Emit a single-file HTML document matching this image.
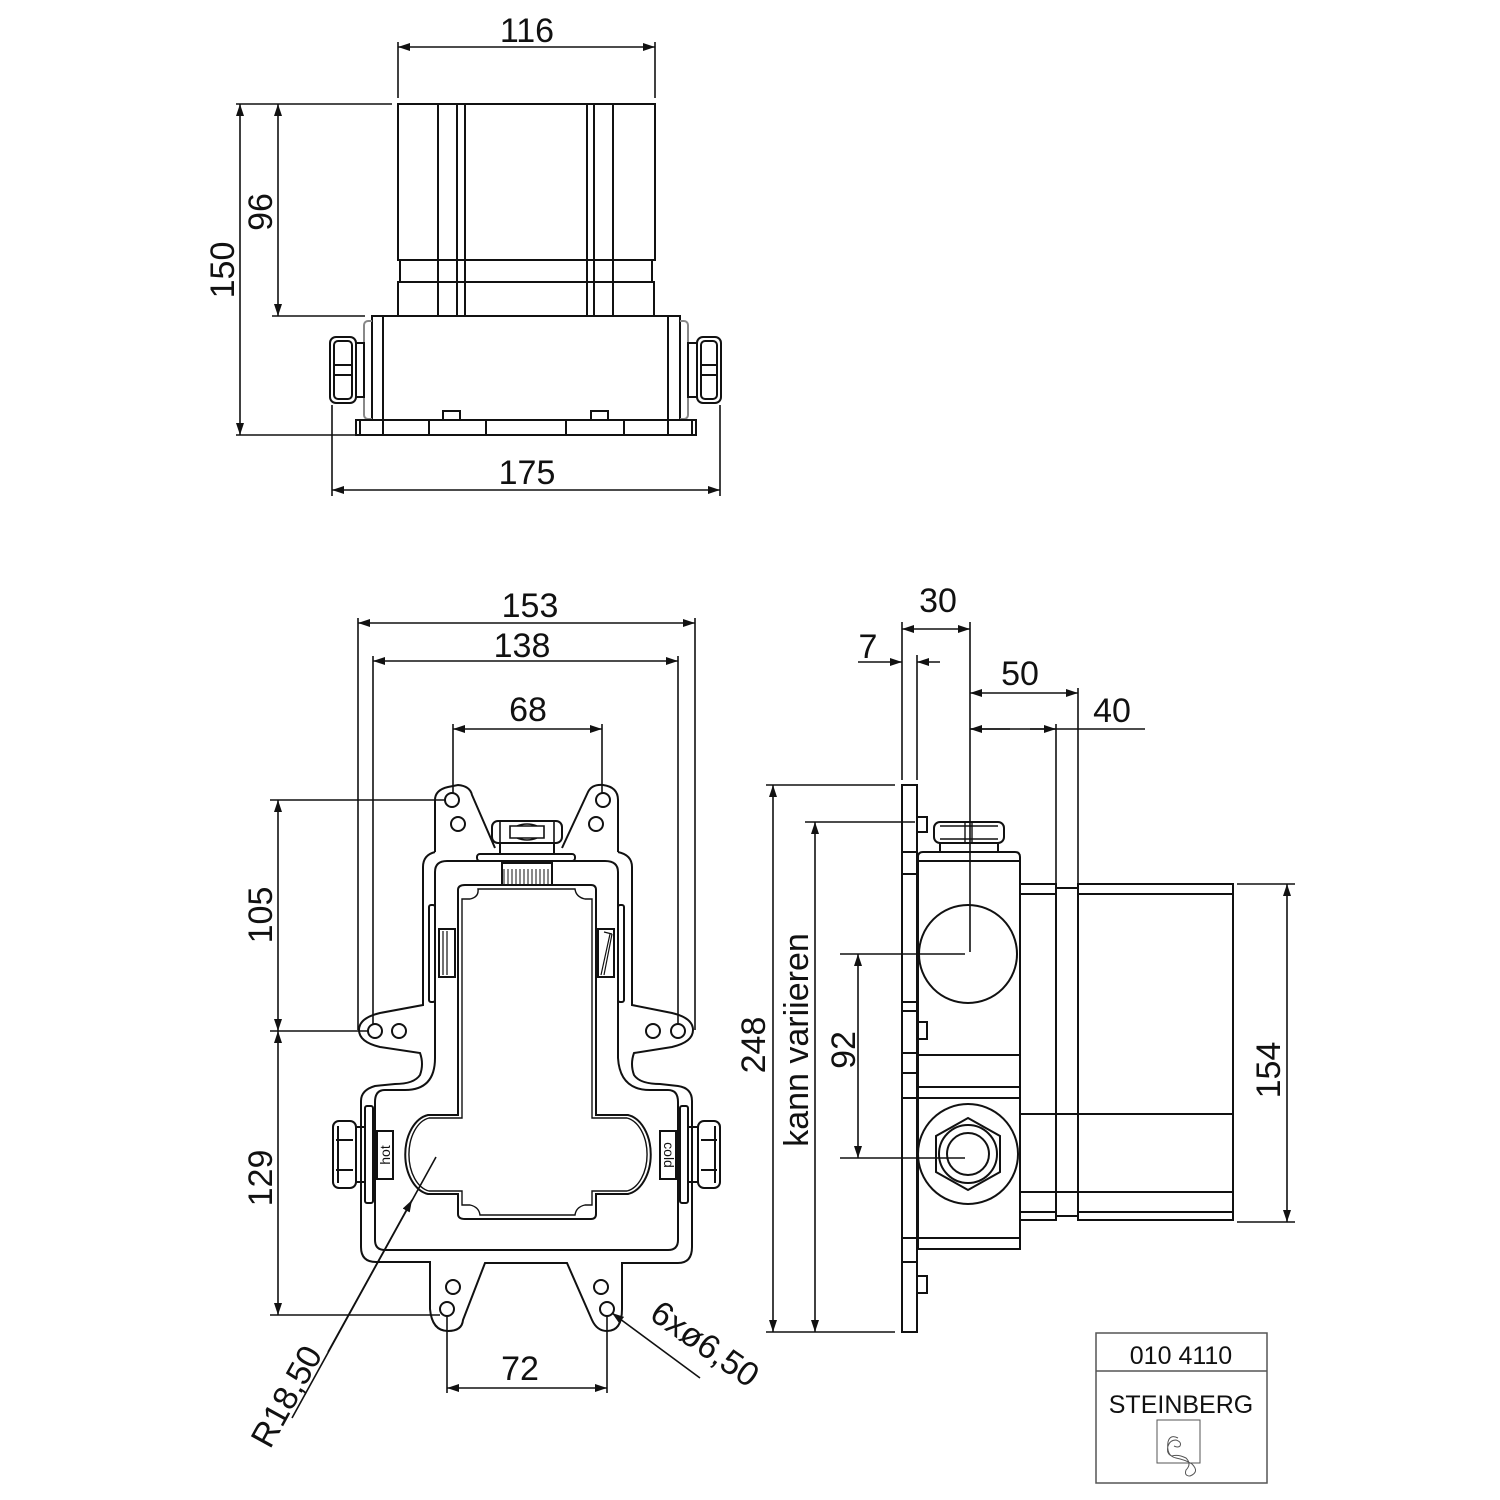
<!DOCTYPE html>
<html><head><meta charset="utf-8"><style>
html,body{margin:0;padding:0;background:#fff}
svg{display:block}
text{font-family:"Liberation Sans",sans-serif;fill:#111}
</style></head><body>
<svg width="1500" height="1500" viewBox="0 0 1500 1500" xmlns="http://www.w3.org/2000/svg">
<defs>
<marker id="a" viewBox="0 0 12 8" refX="12" refY="4" markerWidth="12" markerHeight="8" markerUnits="userSpaceOnUse" orient="auto-start-reverse"><path d="M0,0 L12,4 L0,8 z" fill="#111"/></marker>
</defs>
<g fill="none" stroke="#111" stroke-width="2">
<rect x="398" y="104" width="257" height="156"/>
<line x1="438" y1="104" x2="438" y2="316"/><line x1="457" y1="104" x2="457" y2="316"/><line x1="465" y1="104" x2="465" y2="316"/>
<line x1="587" y1="104" x2="587" y2="316"/><line x1="594" y1="104" x2="594" y2="316"/><line x1="613" y1="104" x2="613" y2="316"/>
<rect x="400" y="260" width="252" height="22"/>
<rect x="398" y="282" width="256" height="34"/>
<rect x="372" y="316" width="308" height="104"/>
<line x1="383" y1="316" x2="383" y2="420"/><line x1="668" y1="316" x2="668" y2="420"/>
<path d="M372,321 h-4 a4,4 0 0 0 -4,4 v90 a4,4 0 0 0 4,4 h4" stroke="#888"/>
<path d="M680,321 h4 a4,4 0 0 1 4,4 v90 a4,4 0 0 1 -4,4 h-4" stroke="#888"/>
<rect x="356" y="420" width="340" height="15"/>
<path d="M360,420v15M383,420v15M429,420v15M486,420v15M566,420v15M624,420v15M668,420v15M692,420v15"/>
<rect x="443" y="411" width="17" height="9"/><rect x="591" y="411" width="17" height="9"/>
<rect x="330" y="337" width="26" height="66" rx="6"/><rect x="334" y="341" width="18" height="58" rx="4"/>
<path d="M334,365h18M334,375h18"/><rect x="356" y="343" width="8" height="54"/>
<rect x="697" y="337" width="24" height="66" rx="6"/><rect x="701" y="341" width="16" height="58" rx="4"/>
<path d="M701,365h16M701,375h16"/><rect x="688" y="343" width="9" height="54"/>
</g>
<g fill="none" stroke="#111" stroke-width="1.6">
<line x1="398" y1="42" x2="398" y2="98"/><line x1="655" y1="42" x2="655" y2="98"/>
<line x1="398" y1="47" x2="655" y2="47" marker-start="url(#a)" marker-end="url(#a)"/>
<line x1="236" y1="104" x2="392" y2="104"/><line x1="236" y1="435" x2="355" y2="435"/>
<line x1="240" y1="104" x2="240" y2="435" marker-start="url(#a)" marker-end="url(#a)"/>
<line x1="272" y1="316" x2="365" y2="316"/>
<line x1="278" y1="104" x2="278" y2="316" marker-start="url(#a)" marker-end="url(#a)"/>
<line x1="332" y1="405" x2="332" y2="496"/><line x1="720" y1="405" x2="720" y2="496"/>
<line x1="332" y1="490" x2="720" y2="490" marker-start="url(#a)" marker-end="url(#a)"/>
</g>
<text x="527" y="42" font-size="34" text-anchor="middle">116</text>
<text x="527" y="484" font-size="34" text-anchor="middle">175</text>
<text transform="translate(234,270) rotate(-90)" font-size="34" text-anchor="middle">150</text>
<text transform="translate(272,212) rotate(-90)" font-size="34" text-anchor="middle">96</text>

<g fill="none" stroke="#111" stroke-width="2">
<path d="M435,852 V800 Q435,790 448,787 L458,785 Q470,786 472,795 L495,848
 M562,848 L588,792 Q592,784 603,785 Q618,787 618,800 V852
 M435,852 Q423,855 423,867 V1005 L380,1013 Q359,1018 359,1030 Q359,1042 380,1047 L420,1053 Q424,1064 420,1075 Q414,1084 395,1084 L375,1086 Q361,1090 361,1101 V1247 Q361,1262 376,1262 H430 V1309 Q432,1331 448,1331 Q462,1331 463,1320 L485,1263 H567 L592,1320 Q597,1331 607,1331 Q622,1331 622,1309 V1263 H678 Q692,1263 692,1247 V1101 Q692,1088 678,1086 L660,1084 Q640,1084 634,1075 Q630,1064 634,1053 L672,1047 Q693,1042 693,1030 Q693,1018 672,1013 L632,1005 V867 Q632,855 618,852"/>
<path d="M447,861 H605 Q618,861 618,872 V1058 Q620,1090 650,1090 H668 Q678,1090 678,1102 V1240 Q678,1250 668,1250 H385 Q375,1250 375,1240 V1102 Q375,1090 385,1090 H405 Q435,1090 435,1058 V872 Q435,861 447,861 Z"/>
<path d="M465,885 H591 Q596,885 596,890 V1115 H628 A27,40 0 0 1 628,1194 H596 V1214 Q596,1219 591,1219 H465 Q458,1219 458,1214 V1194 H428 A27,40 0 0 1 428,1115 H458 V890 Q458,885 465,885 Z"/>
<path d="M478,889 H575 Q576,897 585,899 H592 V1118 H627 A24,37 0 0 1 627,1191 H592 V1205 H585 Q576,1207 575,1215 H480 Q479,1207 470,1205 H462 V1191 H429 A24,37 0 0 1 429,1118 H462 V899 H470 Q479,897 478,889 Z" stroke-width="1.4"/>
<rect x="502" y="863" width="50" height="22"/>
<path d="M504,869v16M508,869v16M512,869v16M516,869v16M520,869v16M524,869v16M528,869v16M532,869v16M536,869v16M540,869v16M544,869v16M548,869v16" stroke-width="1"/>
<rect x="477" y="854" width="98" height="7" rx="3"/>
<rect x="492" y="821" width="70" height="22" rx="6"/>
<path d="M500,821v22M554,821v22M510,826h34v12h-34zM517,826q10,-4 20,0M517,838q10,4 20,0" stroke-width="1.6"/>
<rect x="500" y="843" width="54" height="11"/>
<rect x="429" y="905" width="6" height="97" rx="2"/><rect x="439" y="929" width="16" height="48"/>
<path d="M443,931v44M447,931v44" stroke-width="1.2"/>
<rect x="618" y="905" width="6" height="97" rx="2"/><rect x="598" y="929" width="16" height="48"/>
<path d="M601,975 L610,934 M604,975 L612,934 M604,932 l8,2" stroke-width="1.2"/>
<rect x="377" y="1131" width="16" height="48"/><rect x="660" y="1131" width="16" height="48"/>
<rect x="333" y="1121" width="23" height="67" rx="6"/><path d="M336,1140h17M336,1170h17M338,1126v57"/>
<rect x="356" y="1127" width="9" height="55"/><rect x="365" y="1106" width="8" height="97" rx="2"/>
<rect x="698" y="1121" width="22" height="67" rx="6"/><path d="M701,1140h16M701,1170h16M715,1126v57"/>
<rect x="688" y="1127" width="10" height="55"/><rect x="680" y="1106" width="8" height="97" rx="2"/>
<circle cx="452" cy="800" r="7"/><circle cx="458" cy="824" r="7"/>
<circle cx="603" cy="800" r="7"/><circle cx="596" cy="824" r="7"/>
<circle cx="375" cy="1031" r="7"/><circle cx="399" cy="1031" r="7"/>
<circle cx="653" cy="1031" r="7"/><circle cx="678" cy="1031" r="7"/>
<circle cx="453" cy="1287" r="7"/><circle cx="447" cy="1309" r="7"/>
<circle cx="601" cy="1287" r="7"/><circle cx="607" cy="1309" r="7"/>
</g>
<text transform="translate(390,1155) rotate(-90)" font-size="14" text-anchor="middle">hot</text>
<text transform="translate(664,1155) rotate(90)" font-size="14" text-anchor="middle">cold</text>
<g fill="none" stroke="#111" stroke-width="1.6">
<line x1="358" y1="618" x2="358" y2="1030"/><line x1="695" y1="618" x2="695" y2="1030"/>
<line x1="358" y1="623" x2="695" y2="623" marker-start="url(#a)" marker-end="url(#a)"/>
<line x1="373" y1="656" x2="373" y2="1025"/><line x1="678" y1="656" x2="678" y2="1025"/>
<line x1="373" y1="661" x2="678" y2="661" marker-start="url(#a)" marker-end="url(#a)"/>
<line x1="453" y1="724" x2="453" y2="794"/><line x1="602" y1="724" x2="602" y2="794"/>
<line x1="453" y1="729" x2="602" y2="729" marker-start="url(#a)" marker-end="url(#a)"/>
<line x1="270" y1="800" x2="446" y2="800"/><line x1="270" y1="1031" x2="368" y2="1031"/><line x1="270" y1="1315" x2="440" y2="1315"/>
<line x1="278" y1="800" x2="278" y2="1031" marker-start="url(#a)" marker-end="url(#a)"/>
<line x1="278" y1="1031" x2="278" y2="1315" marker-start="url(#a)" marker-end="url(#a)"/>
<line x1="447" y1="1316" x2="447" y2="1393"/><line x1="607" y1="1316" x2="607" y2="1393"/>
<line x1="447" y1="1388" x2="607" y2="1388" marker-start="url(#a)" marker-end="url(#a)"/>
<line x1="436" y1="1157" x2="292" y2="1418"/>
<line x1="328" y1="1352" x2="412" y2="1200" marker-end="url(#a)"/>
<line x1="700" y1="1378" x2="612" y2="1313" marker-end="url(#a)"/>
</g>
<text x="530" y="617" font-size="34" text-anchor="middle">153</text>
<text x="522" y="657" font-size="34" text-anchor="middle">138</text>
<text x="528" y="721" font-size="34" text-anchor="middle">68</text>
<text x="520" y="1380" font-size="34" text-anchor="middle">72</text>
<text transform="translate(272,915) rotate(-90)" font-size="34" text-anchor="middle">105</text>
<text transform="translate(272,1178) rotate(-90)" font-size="34" text-anchor="middle">129</text>
<text transform="translate(270,1450) rotate(-61)" font-size="34">R18,50</text>
<text transform="translate(648,1318) rotate(35)" font-size="34">6xø6,50</text>

<g fill="none" stroke="#111" stroke-width="2">
<rect x="902" y="785" width="15" height="547"/>
<path d="M902,852h15M902,874h15M902,1002h15M902,1011h15M902,1053h15M902,1073h15M902,1098h15M902,1238h15M902,1262h15"/>
<rect x="917" y="817" width="10" height="15"/><rect x="917" y="1022" width="10" height="17"/><rect x="917" y="1276" width="10" height="17"/>
<path d="M918,1249 V857 Q918,852 923,852 H1015 Q1020,852 1020,857 V1249 Z"/>
<path d="M918,861h102M918,1055h102M918,1087h102M918,1098h102M918,1238h102"/>
<rect x="934" y="822" width="70" height="21" rx="6"/><path d="M965,822v21M972,822v21M940,826h58M940,839h58" stroke-width="1.4"/>
<rect x="940" y="843" width="58" height="9"/>
<circle cx="968" cy="954" r="49"/>
<circle cx="968" cy="1154" r="50"/>
<path d="M968,1118 L1000,1136 L1000,1172 L968,1190 L936,1172 L936,1136 Z"/>
<circle cx="968" cy="1154" r="29"/><circle cx="968" cy="1154" r="21"/>
<rect x="1020" y="884" width="36" height="336"/>
<path d="M1020,894h36M1020,1114h36M1020,1192h36M1020,1212h36"/>
<rect x="1056" y="888" width="22" height="328"/><path d="M1056,1114h22M1056,1192h22"/>
<rect x="1078" y="884" width="155" height="336"/>
<path d="M1078,894h155M1078,1114h155M1078,1192h155M1078,1212h155"/>
</g>
<g fill="none" stroke="#111" stroke-width="1.6">
<line x1="902" y1="622" x2="902" y2="780"/><line x1="917" y1="655" x2="917" y2="780"/>
<line x1="970" y1="622" x2="970" y2="952"/>
<line x1="902" y1="629" x2="970" y2="629" marker-start="url(#a)" marker-end="url(#a)"/>
<line x1="858" y1="662" x2="902" y2="662" marker-end="url(#a)"/>
<line x1="940" y1="662" x2="917" y2="662" marker-end="url(#a)"/>
<line x1="1078" y1="688" x2="1078" y2="884"/><line x1="1056" y1="724" x2="1056" y2="884"/>
<line x1="970" y1="693" x2="1078" y2="693" marker-start="url(#a)" marker-end="url(#a)"/>
<line x1="970" y1="729" x2="1145" y2="729"/>
<line x1="1010" y1="729" x2="970" y2="729" marker-end="url(#a)"/>
<line x1="1030" y1="729" x2="1056" y2="729" marker-end="url(#a)"/>
<line x1="766" y1="785" x2="895" y2="785"/><line x1="766" y1="1332" x2="895" y2="1332"/>
<line x1="773" y1="785" x2="773" y2="1332" marker-start="url(#a)" marker-end="url(#a)"/>
<line x1="805" y1="822" x2="915" y2="822"/>
<line x1="815" y1="822" x2="815" y2="1332" marker-start="url(#a)" marker-end="url(#a)"/>
<line x1="840" y1="954" x2="965" y2="954"/><line x1="840" y1="1158" x2="965" y2="1158"/>
<line x1="858" y1="954" x2="858" y2="1158" marker-start="url(#a)" marker-end="url(#a)"/>
<line x1="1237" y1="884" x2="1295" y2="884"/><line x1="1237" y1="1222" x2="1295" y2="1222"/>
<line x1="1287" y1="884" x2="1287" y2="1222" marker-start="url(#a)" marker-end="url(#a)"/>
</g>
<text x="938" y="612" font-size="34" text-anchor="middle">30</text>
<text x="868" y="658" font-size="34" text-anchor="middle">7</text>
<text x="1020" y="685" font-size="34" text-anchor="middle">50</text>
<text x="1112" y="722" font-size="34" text-anchor="middle">40</text>
<text transform="translate(765,1045) rotate(-90)" font-size="34" text-anchor="middle">248</text>
<text transform="translate(808,1040) rotate(-90)" font-size="34" text-anchor="middle">kann variieren</text>
<text transform="translate(855,1050) rotate(-90)" font-size="34" text-anchor="middle">92</text>
<text transform="translate(1280,1070) rotate(-90)" font-size="34" text-anchor="middle">154</text>

<rect x="1096" y="1333" width="171" height="150" fill="none" stroke="#555" stroke-width="1.5"/>
<line x1="1096" y1="1371" x2="1267" y2="1371" stroke="#555" stroke-width="1.5"/>
<text x="1181" y="1364" font-size="25" text-anchor="middle">010 4110</text>
<text x="1181" y="1413" font-size="25" text-anchor="middle" fill="#222">STEINBERG</text>
<rect x="1157" y="1420" width="43" height="43" fill="none" stroke="#555" stroke-width="1"/>
<path d="M1178,1438 q-8,-4 -10,4 q-2,14 8,16 q10,2 16,6 q8,8 -2,12 q-6,0 -4,-6 q6,-6 0,-12 q-8,-4 -14,-2 q-6,-2 -4,-10 q2,-6 8,-6 q6,2 4,6 q-2,2 -6,0" fill="none" stroke="#555" stroke-width="1"/>
</svg>
</body></html>
